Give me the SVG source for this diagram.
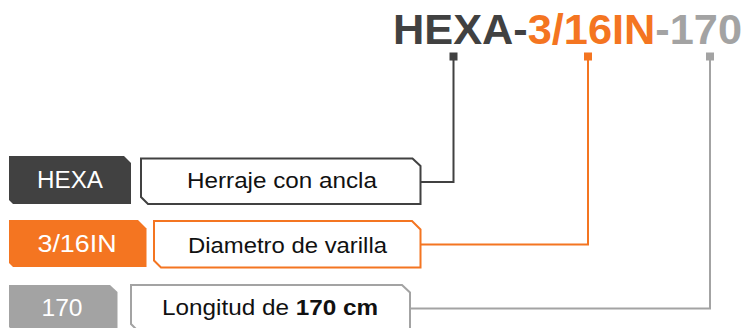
<svg xmlns="http://www.w3.org/2000/svg" width="751" height="328" viewBox="0 0 751 328">
  <style>
    .t { font-family: "Liberation Sans", Arial, Helvetica, sans-serif; }
    .lbl { font-size: 23px; fill: #ffffff; text-anchor: middle; }
    .desc { font-size: 21.5px; fill: #111111; text-anchor: middle; }
    .conn { fill: none; stroke-width: 2; }
    .box { fill: #ffffff; stroke-width: 2; stroke-linejoin: miter; }
    .dark { stroke: #414141; }
    .orange { stroke: #f47521; }
    .gray { stroke: #a3a3a3; }
  </style>
  <rect width="751" height="328" fill="#ffffff"/>

  <g id="title">
    <text class="t" x="393" y="44" font-size="42" font-weight="bold" textLength="349" lengthAdjust="spacingAndGlyphs"><tspan fill="#414141">HEXA-</tspan><tspan fill="#f47521">3/16IN</tspan><tspan fill="#a3a3a3">-170</tspan></text>
  </g>

  <g id="connectors">
    <path class="conn dark" d="M453.5,60 V182 H420.5"/>
    <path class="conn orange" d="M588,60 V244.5 H420.5"/>
    <path class="conn gray" d="M710,60 V308.5 H410"/>
    <rect x="449.5" y="52.5" width="8" height="8" fill="#414141"/>
    <rect x="584" y="52.5" width="8" height="8" fill="#f47521"/>
    <rect x="706" y="52.5" width="8" height="8" fill="#a3a3a3"/>
  </g>

  <g id="code-hexa">
    <path d="M9,156 H124 L131,163 V204 H13 L9,200 Z" fill="#414141"/>
    <text class="t lbl" x="70" y="187.5" textLength="66" lengthAdjust="spacingAndGlyphs">HEXA</text>
  </g>
  <g id="desc-hexa">
    <path class="box dark" d="M141,158.5 H412.5 L420.5,166 V204 H148 L141,197 Z"/>
    <text class="t desc" x="282" y="188" textLength="190" lengthAdjust="spacingAndGlyphs">Herraje con ancla</text>
  </g>

  <g id="code-316in">
    <path d="M9,220 H138 L146.5,228.5 V267 H13 L9,263 Z" fill="#f47521"/>
    <text class="t lbl" x="77" y="252" textLength="79" lengthAdjust="spacingAndGlyphs">3/16IN</text>
  </g>
  <g id="desc-316in">
    <path class="box orange" d="M154,221 H412 L420.5,229.5 V267.5 H161 L154,260.5 Z"/>
    <text class="t desc" x="287.5" y="252.5" textLength="199" lengthAdjust="spacingAndGlyphs">Diametro de varilla</text>
  </g>

  <g id="code-170">
    <path d="M9,285 H110 L117.5,292 V331 H13 L9,327 Z" fill="#a3a3a3"/>
    <text class="t lbl" x="62" y="315.5" textLength="41" lengthAdjust="spacingAndGlyphs">170</text>
  </g>
  <g id="desc-170">
    <path class="box gray" d="M131,285 H402 L410,292.5 V331 H138 L131,324 Z"/>
    <text class="t desc" x="270" y="314.5" textLength="216" lengthAdjust="spacingAndGlyphs">Longitud de <tspan font-weight="bold">170 cm</tspan></text>
  </g>
</svg>
